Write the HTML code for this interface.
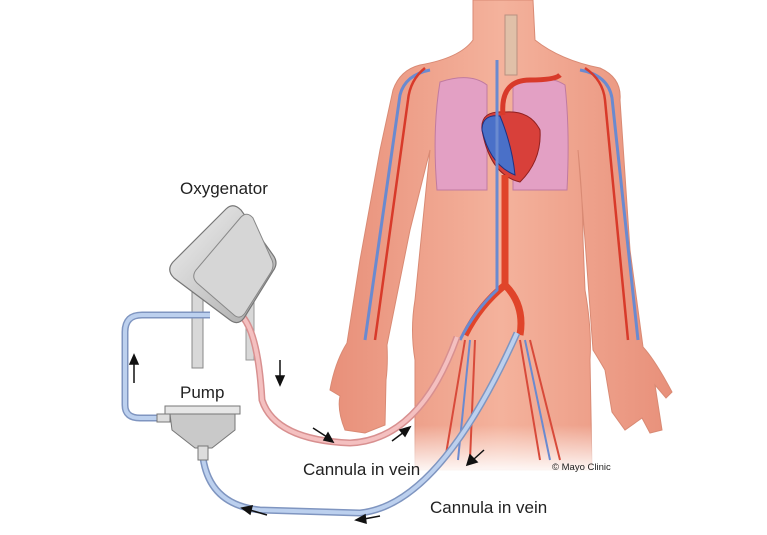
<!DOCTYPE html>
<html><head><style>
html,body{margin:0;padding:0;background:#fff;}
svg{display:block;}
text{font-family:"Liberation Sans",sans-serif;fill:#222;}
</style></head><body>
<svg width="767" height="535" viewBox="0 0 767 535" xmlns="http://www.w3.org/2000/svg">
<defs>
<linearGradient id="skin" x1="0" x2="1">
<stop offset="0" stop-color="#e8907a"/><stop offset="0.5" stop-color="#f4b29c"/><stop offset="1" stop-color="#e8907a"/>
</linearGradient>
<linearGradient id="fade" x1="0" y1="0" x2="0" y2="1">
<stop offset="0" stop-color="#fff" stop-opacity="0"/><stop offset="1" stop-color="#fff" stop-opacity="1"/>
</linearGradient>
<linearGradient id="box" x1="0" y1="0" x2="1" y2="1">
<stop offset="0" stop-color="#f2f2f2"/><stop offset="1" stop-color="#a8a8a8"/>
</linearGradient>
</defs>

<!-- body -->
<path fill="url(#skin)" stroke="#d98a74" stroke-width="1" d="
M473,0 L533,0 L535,40 Q560,60 600,68 Q622,78 620,100 L630,250 L643,347
Q655,360 672,392 L666,398 L655,385 L662,430 L650,433 L642,418 L625,430 L612,412 L605,370 Q598,358 593,350
L585,240 L578,150 Q583,200 583,240 L585,290 Q592,330 590,360 L592,470 L415,470 L415,360 Q410,330 415,300
L422,230 L430,150 L410,230 L387,345 Q388,365 386,380 L385,425 L365,433 L345,430 Q337,410 340,396 L330,390 Q335,362 347,343
L360,260 L380,150 L393,90 Q400,70 420,65 Q460,58 473,40 Z"/>
<rect x="400" y="425" width="210" height="50" fill="url(#fade)"/>

<!-- lungs -->
<path d="M440,82 Q470,72 487,85 L487,190 L437,190 Q432,130 440,82 Z" fill="#e3a0c4" stroke="#c07aa0"/>
<path d="M513,85 Q545,72 565,85 Q570,130 567,190 L513,190 Z" fill="#e3a0c4" stroke="#c07aa0"/>
<!-- trachea -->
<rect x="505" y="15" width="12" height="60" fill="#e0c0a8" stroke="#b89080"/>
<!-- heart -->
<path d="M482,130 Q480,110 505,112 Q530,110 540,130 Q542,160 520,182 Q490,175 482,130 Z" fill="#d8403a" stroke="#902020"/>
<path d="M482,130 Q482,114 500,116 Q512,145 515,175 Q490,165 482,130 Z" fill="#4a70c8" stroke="#203080"/>
<!-- vessels -->
<path d="M503,115 Q500,80 530,80 Q555,80 560,75" fill="none" stroke="#d83a2a" stroke-width="5"/>
<path d="M505,175 L505,285 Q480,305 465,335 M505,285 Q525,305 520,335" fill="none" stroke="#e0442a" stroke-width="7"/>
<path d="M497,60 L497,290 Q475,310 460,340" fill="none" stroke="#6a8ad0" stroke-width="3"/>
<path d="M430,70 Q405,75 400,95 L365,340 M580,70 Q608,75 612,98 L638,340" fill="none" stroke="#6a8ad0" stroke-width="3"/>
<path d="M425,68 Q410,80 408,100 L375,340 M585,68 Q603,80 605,100 L628,340" fill="none" stroke="#d83a2a" stroke-width="2.5"/>
<path d="M465,340 L445,460 M475,340 L470,460 M520,340 L540,460 M530,340 L560,460" fill="none" stroke="#d84a3a" stroke-width="2"/>
<path d="M470,340 L458,460 M525,340 L550,460" fill="none" stroke="#6a8ad0" stroke-width="2"/>

<!-- oxygenator stand -->
<rect x="192" y="290" width="11" height="78" fill="#d8d8d8" stroke="#888"/>
<rect x="246" y="300" width="8" height="60" fill="#d8d8d8" stroke="#999"/>
<!-- tubes -->
<path d="M210,315 L142,315 Q125,315 125,332 L125,405 Q125,418 140,418 L160,418" fill="none" stroke="#7f95c0" stroke-width="7"/>
<path d="M210,315 L142,315 Q125,315 125,332 L125,405 Q125,418 140,418 L160,418" fill="none" stroke="#bcd0ee" stroke-width="4"/>
<path d="M203,458 Q210,505 260,510 L360,513 Q440,505 517,333" fill="none" stroke="#7f95c0" stroke-width="7"/>
<path d="M203,458 Q210,505 260,510 L360,513 Q440,505 517,333" fill="none" stroke="#bcd0ee" stroke-width="4"/>
<path d="M240,314 Q258,330 262,400 Q275,440 350,443 Q420,440 457,337" fill="none" stroke="#d89090" stroke-width="7"/>
<path d="M240,314 Q258,330 262,400 Q275,440 350,443 Q420,440 457,337" fill="none" stroke="#f4c0c0" stroke-width="4"/>
<!-- oxygenator -->
<path d="M226,209 Q233,202 241,210 L273,255 Q279,263 273,271 L244,318 Q238,326 230,320 L174,278 Q166,270 173,262 Z" fill="url(#box)" stroke="#777" stroke-width="1.2"/>
<path d="M241,217 Q247,211 253,218 L271,258 Q275,265 271,272 L245,313 Q240,320 234,315 L197,283 Q191,277 196,270 Z" fill="#d6d6d6" stroke="#888"/>
<!-- pump -->
<rect x="165" y="406" width="75" height="8" fill="#e6e6e6" stroke="#777"/>
<path d="M170,414 L235,414 L235,430 L212,448 L195,448 L172,430 Z" fill="#c9c9c9" stroke="#777"/>
<rect x="198" y="446" width="10" height="14" fill="#ddd" stroke="#777"/>
<rect x="157" y="414" width="13" height="8" fill="#ddd" stroke="#777"/>

<!-- arrows -->
<g stroke="#111" stroke-width="1.5" fill="#111">
<line x1="134" y1="383" x2="134" y2="362"/><path d="M130,364 L134,355 L138,364 Z"/>
<line x1="280" y1="360" x2="280" y2="378"/><path d="M276,376 L280,385 L284,376 Z"/>
<line x1="313" y1="428" x2="327" y2="437"/><path d="M324,440 L333,442 L328,433 Z"/>
<line x1="392" y1="441" x2="404" y2="432"/><path d="M400,430 L410,427 L405,436 Z"/>
<line x1="484" y1="450" x2="474" y2="459"/><path d="M470,455 L467,465 L477,462 Z"/>
<line x1="267" y1="515" x2="250" y2="510"/><path d="M252,506 L242,508 L250,514 Z"/>
<line x1="380" y1="516" x2="364" y2="519"/><path d="M365,515 L356,520 L366,523 Z"/>
</g>

<!-- labels -->
<text x="180" y="194" font-size="17">Oxygenator</text>
<text x="180" y="398" font-size="17">Pump</text>
<text x="303" y="475" font-size="17">Cannula in vein</text>
<text x="430" y="513" font-size="17">Cannula in vein</text>
<text x="552" y="470" font-size="9.5">© Mayo Clinic</text>
</svg>
</body></html>
